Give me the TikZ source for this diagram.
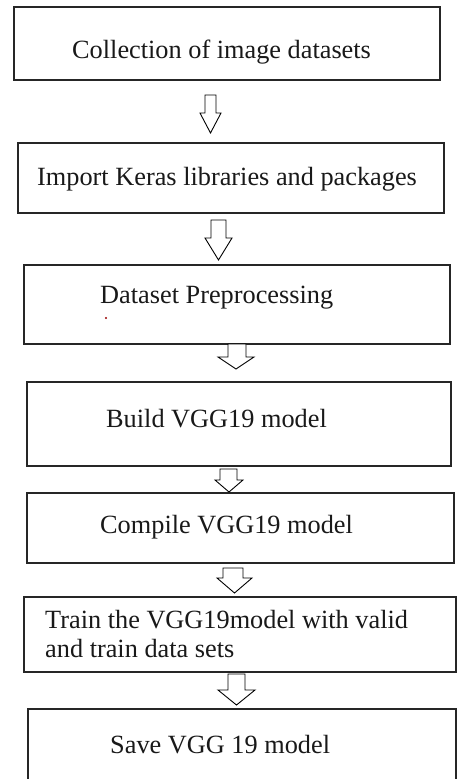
\documentclass[tikz,border=0pt]{standalone}
\usepackage{fontspec}
\setmainfont{Liberation Serif}
\newcommand\flowarrow[8]{%
  \draw[barrow] (#2,#4) -- (#2,#5) -- (#6,#5) -- ({(#6+#7)/2},#8) -- (#7,#5) -- (#3,#5) -- (#3,#4) -- cycle;
  \coordinate (#1) at ({(#6+#7)/2},#8);}
\begin{document}
\begin{tikzpicture}[x=1pt,y=-1pt,
  box/.style={draw=black!85, line width=1.5pt, fill=white, rectangle, inner sep=0pt},
  barrow/.style={draw=black, line width=0.9pt, fill=white, line join=miter},
  lbl/.style={anchor=base west, inner sep=0pt, font=\fontsize{26.3}{30}\selectfont, text=black!90}]
\useasboundingbox (0,0) rectangle (461,779);
\clip (0,0) rectangle (461,779);
\fill[white] (0,0) rectangle (461,779);
% boxes
\node[box, minimum width=426pt, minimum height=73pt] (b1) at (227,43.5) {};
\node[box, minimum width=426pt, minimum height=70pt] (b2) at (231,178) {};
\node[box, minimum width=426pt, minimum height=79pt] (b3) at (237,304.5) {};
\node[box, minimum width=424pt, minimum height=84pt] (b4) at (239,424) {};
\node[box, minimum width=427pt, minimum height=70pt] (b5) at (240.5,528) {};
\node[box, minimum width=432pt, minimum height=75pt] (b6) at (240,634.5) {};
\node[box, minimum width=428pt, minimum height=91pt] (b7) at (242,754.5) {};
% texts
\node[lbl] (t1) at (72,58) {Collection of image datasets};
\node[lbl] (t2) at (37,185) {Import Keras libraries and packages};
\node[lbl] (t3) at (100,303) {Dataset Preprocessing};
\node[lbl] (t4) at (106,427) {Build VGG19 model};
\node[lbl] (t5) at (100,533) {Compile VGG19 model};
\node[lbl] (t6a) at (45,628) {Train the VGG19model with valid};
\node[lbl] (t6b) at (45,657) {and train data sets};
\node[lbl] (t7) at (110,753) {Save VGG 19 model};
% stray dot
\fill[red!60!black] (106,318) circle (1.1pt);
% block arrows
\flowarrow{a1}{205}{216}{95}{113}{200}{221}{133}
\flowarrow{a2}{211}{226}{220}{238}{205}{232}{260}
\flowarrow{a3}{228}{246}{344}{357}{218}{254}{369}
\flowarrow{a4}{220}{237}{469}{480}{215}{243}{492}
\flowarrow{a5}{223}{243}{568}{578}{217}{252}{593}
\flowarrow{a6}{228}{245}{674}{690}{218}{255}{705}
\end{tikzpicture}
\end{document}
